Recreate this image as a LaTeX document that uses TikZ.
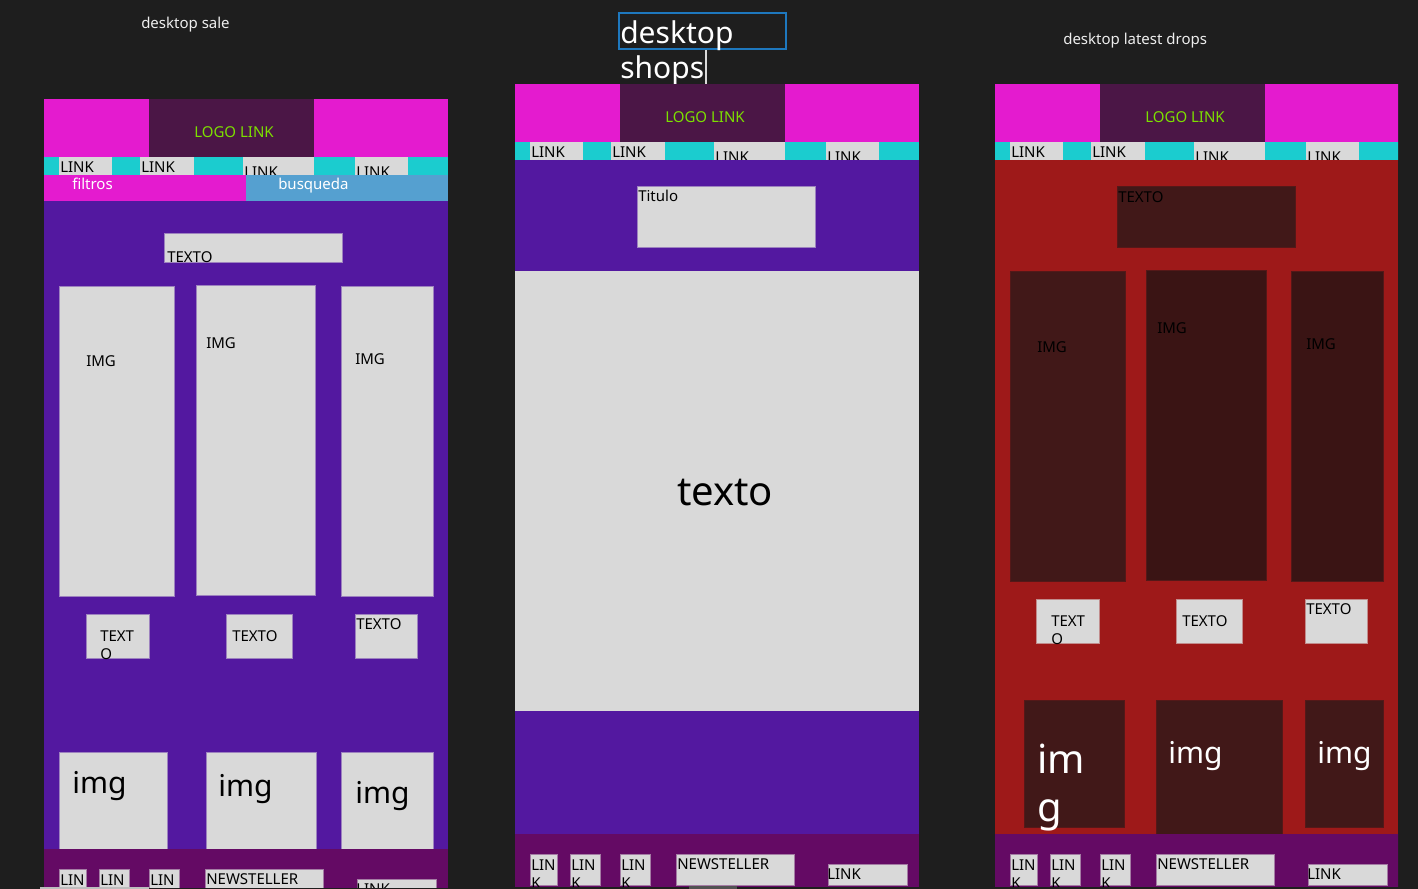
\documentclass[tikz,border=0pt]{standalone}
\usepackage{fontspec}
\setmainfont{Noto Sans}

% palette
\definecolor{bgc}{HTML}{1E1E1E}
\definecolor{mag}{HTML}{E41BCF}
\definecolor{logoc}{HTML}{4B1646}
\definecolor{lime}{HTML}{7CE000}
\definecolor{cyanc}{HTML}{1BCCCF}
\definecolor{lgrey}{HTML}{D9D9D9}
\definecolor{purp}{HTML}{5318A0}
\definecolor{footc}{HTML}{640A64}
\definecolor{bluec}{HTML}{55A0D0}
\definecolor{redc}{HTML}{9E1919}
\definecolor{dred}{HTML}{411818}
\definecolor{dredb}{HTML}{3A1414}
\definecolor{selblue}{HTML}{1E78BE}
\definecolor{scrollc}{HTML}{525252}
\definecolor{titlec}{HTML}{EEEEEE}

% font sizes (1px = 0.75pt)
\newcommand\fsm{\fontsize{11.25pt}{13.5pt}\selectfont}
\newcommand\fbig{\fontsize{22.5pt}{27pt}\selectfont}
\newcommand\fhuge{\fontsize{30pt}{36pt}\selectfont}

\tikzset{
  lbl/.style={anchor=base west, inner sep=0pt, font=\fsm, text=black},
  bigtxt/.style={anchor=base west, inner sep=0pt, font=\fbig, text=black},
  hugetxt/.style={anchor=base west, inner sep=0pt, font=\fhuge, text=black},
  cardp/.style={fill=lgrey, draw=lgrey!55!purp, line width=0.6pt},
  cardr/.style={fill=lgrey, draw=lgrey!60!redc, line width=0.6pt},
  cardf/.style={fill=lgrey, draw=lgrey!55!footc, line width=0.6pt},
  darkbox/.style={fill=dred, draw=dred!80!redc, line width=0.6pt},
}

% page header: logo bar and navigation links; #1 name prefix, (#2,#3) top-left corner
\newcommand\siteheader[3]{%
  \begin{scope}[shift={(#2,#3)}]
    \fill[mag] (0,0) rectangle (404,58);
    \fill[logoc] (105,0) rectangle (270,58);
    \node[anchor=base, inner sep=0pt, font=\fsm, text=lime] (#1-logo) at (190,38) {LOGO LINK};
    \fill[cyanc] (0,58) rectangle (404,76);
    \fill[lgrey] (15,58) rectangle (68,76);
    \fill[lgrey] (96,58) rectangle (150,76);
    \fill[lgrey] (199,58) rectangle (270,76);
    \fill[lgrey] (311,58) rectangle (364,76);
    \node[lbl] (#1-nav1) at (16,73.5) {LINK};
    \node[lbl] (#1-nav2) at (97,73.5) {LINK};
    \node[lbl] (#1-nav3) at (200,78) {LINK};
    \node[lbl] (#1-nav4) at (312,78) {LINK};
  \end{scope}}

% page footer; #1 name prefix, (#2,#3) top-left corner of the footer band
\newcommand\sitefooter[3]{%
  \begin{scope}[shift={(#2,#3)}]
    \fill[footc] (0,0) rectangle (404,60);
    \path[cardf] (15,20) rectangle (42,51);
    \path[cardf] (55,20) rectangle (85,51);
    \path[cardf] (105,20) rectangle (135,51);
    \path[cardf] (161,20) rectangle (279,51);
    \path[cardf] (313,30) rectangle (392,51);
    \node[lbl] (#1-f1a) at (16,36) {LIN};
    \node[lbl] (#1-f1b) at (16,54) {K};
    \node[lbl] (#1-f2a) at (56,36) {LIN};
    \node[lbl] (#1-f2b) at (56,54) {K};
    \node[lbl] (#1-f3a) at (106,36) {LIN};
    \node[lbl] (#1-f3b) at (106,54) {K};
    \node[lbl] (#1-news) at (162,35) {NEWSTELLER};
    \node[lbl] (#1-flink) at (312,45) {LINK};
  \end{scope}}

\begin{document}
\begin{tikzpicture}[x=0.75pt, y=-0.75pt]
\useasboundingbox (0,0) rectangle (1418,889);
\fill[bgc] (0,0) rectangle (1418,889);

% ---------- frame titles ----------
\node[lbl, text=titlec] (t-sale) at (141,28) {desktop sale};
\node[lbl, text=titlec] (t-drops) at (1063,44) {desktop latest drops};
\draw[selblue, line width=0.9pt] (619,13) rectangle (786,49);
\node[bigtxt, text=white] (t-shops1) at (620,43) {desktop};
\node[bigtxt, text=white] (t-shops2) at (620,78) {shops};
\coordinate (caret-top) at (706,50);
\coordinate (caret-bot) at (706,86);
\draw[lgrey, line width=1pt] (caret-top) -- (caret-bot);

% ---------- desktop sale ----------
\begin{scope}
\clip (44,99) rectangle (448,887);
\siteheader{s}{44}{99}
\fill[mag] (44,175) rectangle (246,201);
\fill[bluec] (246,175) rectangle (448,201);
\node[lbl, text=white] (s-filtros) at (72,189) {filtros};
\node[lbl, text=white] (s-busqueda) at (278,189) {busqueda};
\fill[purp] (44,201) rectangle (448,849);
\path[cardp] (164,233) rectangle (342,262);
\node[lbl] (s-texto) at (167,262) {TEXTO};
% product images
\path[cardp] (59,286) rectangle (174,596);
\path[cardp] (196,285) rectangle (315,595);
\path[cardp] (341,286) rectangle (433,596);
\node[lbl] (s-img1) at (86,366) {IMG};
\node[lbl] (s-img2) at (206,348) {IMG};
\node[lbl] (s-img3) at (355,364) {IMG};
% captions
\path[cardp] (86,614) rectangle (149,658);
\path[cardp] (226,614) rectangle (292,658);
\path[cardp] (355,614) rectangle (417,658);
\node[lbl] (s-cap1a) at (100,641) {TEXT};
\node[lbl] (s-cap1b) at (100,659) {O};
\node[lbl] (s-cap2) at (232,641) {TEXTO};
\node[lbl] (s-cap3) at (356,629) {TEXTO};
% thumbnails
\path[cardp] (59,752) rectangle (167,849);
\path[cardp] (206,752) rectangle (316,849);
\path[cardp] (341,752) rectangle (433,849);
\node[bigtxt] (s-th1) at (72,793) {img};
\node[bigtxt] (s-th2) at (218,796) {img};
\node[bigtxt] (s-th3) at (355,803) {img};
\sitefooter{s}{44}{849}
\end{scope}
\fill[lgrey!85!bgc] (40,887) rectangle (149,889);

% ---------- desktop shops ----------
\begin{scope}
\clip (515,84) rectangle (919,886);
\siteheader{m}{515}{84}
\fill[purp] (515,160) rectangle (919,834);
\path[cardp] (637,186) rectangle (815,247);
\node[lbl] (m-titulo) at (638,201) {Titulo};
\fill[lgrey] (515,271) rectangle (919,711);
\node[anchor=base, inner sep=0pt, font=\fhuge, text=black] (m-texto) at (725,505) {texto};
\sitefooter{m}{515}{834}
\end{scope}
\fill[scrollc] (689,886) rectangle (737,889);

% ---------- desktop latest drops ----------
\begin{scope}
\clip (995,84) rectangle (1398,886);
\siteheader{d}{995}{84}
\fill[redc] (995,160) rectangle (1398,834);
\path[darkbox] (1117,186) rectangle (1295,247);
\node[lbl] (d-texto) at (1118,202) {TEXTO};
% product images
\path[darkbox] (1010,271) rectangle (1125,581);
\path[darkbox, fill=dredb] (1146,270) rectangle (1266,580);
\path[darkbox, fill=dredb] (1291,271) rectangle (1383,581);
\node[lbl] (d-img1) at (1037,352) {IMG};
\node[lbl] (d-img2) at (1157,333) {IMG};
\node[lbl] (d-img3) at (1306,349) {IMG};
% captions
\path[cardr] (1036,599) rectangle (1099,643);
\path[cardr] (1176,599) rectangle (1242,643);
\path[cardr] (1305,599) rectangle (1367,643);
\node[lbl] (d-cap1a) at (1051,626) {TEXT};
\node[lbl] (d-cap1b) at (1051,644) {O};
\node[lbl] (d-cap2) at (1182,626) {TEXTO};
\node[lbl] (d-cap3) at (1306,614) {TEXTO};
% thumbnails
\path[darkbox] (1024,700) rectangle (1124,827);
\path[darkbox] (1156,700) rectangle (1282,834);
\path[darkbox] (1305,700) rectangle (1383,827);
\node[hugetxt, text=white] (d-th1a) at (1037,773) {im};
\node[hugetxt, text=white] (d-th1b) at (1037,821) {g};
\node[bigtxt, text=white] (d-th2) at (1168,763) {img};
\node[bigtxt, text=white] (d-th3) at (1317,763) {img};
\sitefooter{d}{995}{834}
\end{scope}
\end{tikzpicture}
\end{document}
